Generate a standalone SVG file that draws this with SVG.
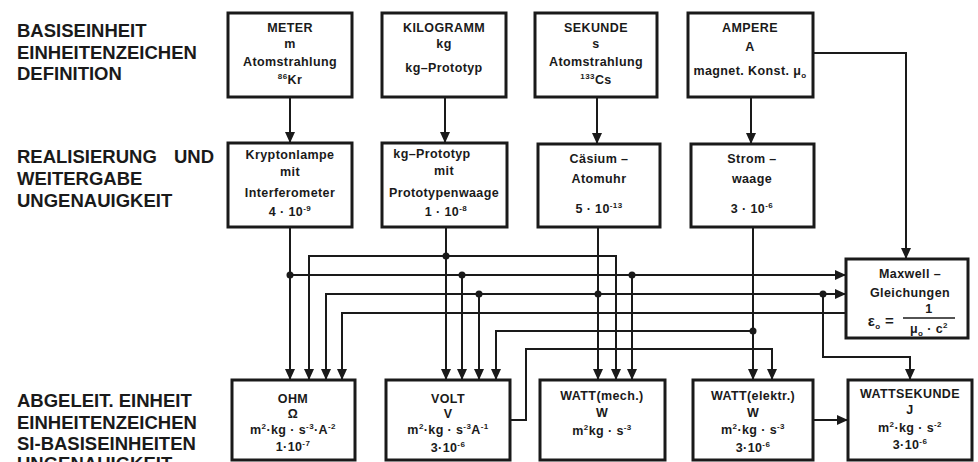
<svg xmlns="http://www.w3.org/2000/svg" width="978" height="462" viewBox="0 0 978 462">
<style>
.lbl{font-family:"Liberation Sans",Arial,sans-serif;font-weight:bold;font-size:18.5px;fill:#1a1a1a}
.box{fill:#fff;stroke:#1a1a1a;stroke-width:3}
.t{font-family:"Liberation Sans",Arial,sans-serif;font-weight:bold;font-size:12.5px;letter-spacing:0.4px;fill:#1a1a1a;text-anchor:middle}
.sup{font-size:8px}
.ln{fill:none;stroke:#1a1a1a;stroke-width:2}
.ar{marker-end:url(#ah)}
.dot{fill:#1a1a1a}
</style>
<defs>
<marker id="ah" markerUnits="userSpaceOnUse" markerWidth="11" markerHeight="10" refX="11" refY="5" orient="auto">
<path d="M0,0 L11,5 L0,10 z" fill="#1a1a1a"/>
</marker>
</defs>
<rect width="978" height="462" fill="#fff"/>
<g id="labels">
<text class="lbl" x="17" y="37">BASISEINHEIT</text>
<text class="lbl" x="17" y="58.5">EINHEITENZEICHEN</text>
<text class="lbl" x="17" y="80">DEFINITION</text>
<text class="lbl" x="17" y="163">REALISIERUNG<tspan x="174">UND</tspan></text>
<text class="lbl" x="17" y="185">WEITERGABE</text>
<text class="lbl" x="17" y="207">UNGENAUIGKEIT</text>
<text class="lbl" x="17" y="407">ABGELEIT. EINHEIT</text>
<text class="lbl" x="17" y="428.5">EINHEITENZEICHEN</text>
<text class="lbl" x="17" y="450">SI-BASISEINHEITEN</text>
<text class="lbl" x="17" y="470">UNGENAUIGKEIT</text>
</g>
<g id="connectors">
<path class="ln ar" d="M290,97 V143"/>
<path class="ln ar" d="M445,97 V143"/>
<path class="ln ar" d="M597,97 V144"/>
<path class="ln ar" d="M751,97 V144"/>
<path class="ln ar" d="M813,53 H906 V259"/>
<path class="ln ar" d="M290,227 V380"/>
<path class="ln ar" d="M446,227 V380"/>
<path class="ln ar" d="M598,227 V380"/>
<path class="ln ar" d="M753,227 V380"/>
<path class="ln ar" d="M446,256 H309 V380"/>
<path class="ln ar" d="M446,256 H616 V380"/>
<path class="ln ar" d="M290,275 H846"/>
<path class="ln ar" d="M462,275 V380"/>
<path class="ln ar" d="M632,275 V380"/>
<path class="ln ar" d="M598,294 H326 V380"/>
<path class="ln ar" d="M598,294 H846"/>
<path class="ln ar" d="M479,294 V380"/>
<path class="ln ar" d="M823,294 V357 H910 V380"/>
<path class="ln ar" d="M846,313 H342 V380"/>
<path class="ln ar" d="M753,331 H496 V380"/>
<path class="ln ar" d="M510,420 H526 V349 H772 V380"/>
<path class="ln ar" d="M813,420 H848"/>
<circle class="dot" cx="446" cy="256" r="3.5"/>
<circle class="dot" cx="290" cy="275" r="3.5"/>
<circle class="dot" cx="462" cy="275" r="3.5"/>
<circle class="dot" cx="632" cy="275" r="3.5"/>
<circle class="dot" cx="598" cy="294" r="3.5"/>
<circle class="dot" cx="479" cy="294" r="3.5"/>
<circle class="dot" cx="823" cy="294" r="3.5"/>
<circle class="dot" cx="753" cy="331" r="3.5"/>
</g>
<g id="meter">
<rect class="box" x="228" y="13" width="124" height="84"/>
<text class="t" x="290" y="32">METER</text>
<text class="t" x="290" y="48">m</text>
<text class="t" x="290" y="66">Atomstrahlung</text>
<text class="t" x="290" y="84"><tspan class="sup" dy="-5">86</tspan><tspan dy="5">Kr</tspan></text>
</g>
<g id="kilogramm">
<rect class="box" x="382" y="13" width="124" height="84"/>
<text class="t" x="444" y="32">KILOGRAMM</text>
<text class="t" x="444" y="48">kg</text>
<text class="t" x="444" y="72">kg–Prototyp</text>
</g>
<g id="sekunde">
<rect class="box" x="535" y="13" width="122" height="84"/>
<text class="t" x="596" y="32">SEKUNDE</text>
<text class="t" x="596" y="48">s</text>
<text class="t" x="596" y="66">Atomstrahlung</text>
<text class="t" x="596" y="84"><tspan class="sup" dy="-5">133</tspan><tspan dy="5">Cs</tspan></text>
</g>
<g id="ampere">
<rect class="box" x="688" y="13" width="125" height="84"/>
<text class="t" x="750" y="32">AMPERE</text>
<text class="t" x="750" y="51">A</text>
<text class="t" x="750" y="75">magnet. Konst. μ<tspan class="sup" dy="3">o</tspan></text>
</g>
<g id="kryptonlampe">
<rect class="box" x="228" y="143" width="124" height="84"/>
<text class="t" x="290" y="159">Kryptonlampe</text>
<text class="t" x="290" y="176">mit</text>
<text class="t" x="290" y="197">Interferometer</text>
<text class="t" x="290" y="216">4 · 10<tspan class="sup" dy="-5">-9</tspan></text>
</g>
<g id="prototypenwaage">
<rect class="box" x="382" y="143" width="125" height="84"/>
<text class="t" x="432" y="158">kg–Prototyp</text>
<text class="t" x="444" y="175">mit</text>
<text class="t" x="444" y="197">Prototypenwaage</text>
<text class="t" x="446" y="216">1 · 10<tspan class="sup" dy="-5">-8</tspan></text>
</g>
<g id="caesium">
<rect class="box" x="538" y="144" width="122" height="83"/>
<text class="t" x="599" y="163">Cäsium –</text>
<text class="t" x="599" y="183">Atomuhr</text>
<text class="t" x="599" y="213">5 · 10<tspan class="sup" dy="-5">-13</tspan></text>
</g>
<g id="stromwaage">
<rect class="box" x="691" y="144" width="123" height="83"/>
<text class="t" x="752" y="163">Strom –</text>
<text class="t" x="752" y="183">waage</text>
<text class="t" x="752" y="213">3 · 10<tspan class="sup" dy="-5">-6</tspan></text>
</g>
<g id="maxwell">
<rect class="box" x="846" y="259" width="122" height="79"/>
<text class="t" x="910" y="278">Maxwell –</text>
<text class="t" x="910" y="297">Gleichungen</text>
<text class="t" x="881" y="326" style="font-size:15px">ε<tspan class="sup" dy="3">o</tspan><tspan dy="-3"> =</tspan></text>
<text class="t" x="929" y="313">1</text>
<line x1="903" y1="318" x2="955" y2="318" stroke="#1a1a1a" stroke-width="1.5"/>
<text class="t" x="929" y="333">μ<tspan class="sup" dy="3">o</tspan><tspan dy="-3"> · c</tspan><tspan class="sup" dy="-5">2</tspan></text>
</g>
<g id="ohm">
<rect class="box" x="232" y="380" width="123" height="80"/>
<text class="t" x="293" y="403">OHM</text>
<text class="t" x="293" y="418">Ω</text>
<text class="t" x="293" y="434">m<tspan class="sup" dy="-5">2</tspan><tspan dy="5">·kg · s</tspan><tspan class="sup" dy="-5">-3</tspan><tspan dy="5">·A</tspan><tspan class="sup" dy="-5">-2</tspan></text>
<text class="t" x="293" y="451">1·10<tspan class="sup" dy="-5">-7</tspan></text>
</g>
<g id="volt">
<rect class="box" x="386" y="380" width="124" height="80"/>
<text class="t" x="448" y="403">VOLT</text>
<text class="t" x="448" y="418">V</text>
<text class="t" x="448" y="434">m<tspan class="sup" dy="-5">2</tspan><tspan dy="5">·kg · s</tspan><tspan class="sup" dy="-5">-3</tspan><tspan dy="5">A</tspan><tspan class="sup" dy="-5">-1</tspan></text>
<text class="t" x="448" y="452">3·10<tspan class="sup" dy="-5">-6</tspan></text>
</g>
<g id="watt-mech">
<rect class="box" x="540" y="380" width="125" height="80"/>
<text class="t" x="602" y="400">WATT(mech.)</text>
<text class="t" x="602" y="417">W</text>
<text class="t" x="602" y="435">m<tspan class="sup" dy="-5">2</tspan><tspan dy="5">kg · s</tspan><tspan class="sup" dy="-5">-3</tspan></text>
</g>
<g id="watt-elektr">
<rect class="box" x="693" y="380" width="120" height="80"/>
<text class="t" x="753" y="400">WATT(elektr.)</text>
<text class="t" x="753" y="417">W</text>
<text class="t" x="753" y="434">m<tspan class="sup" dy="-5">2</tspan><tspan dy="5">·kg · s</tspan><tspan class="sup" dy="-5">-3</tspan></text>
<text class="t" x="753" y="452">3·10<tspan class="sup" dy="-5">-6</tspan></text>
</g>
<g id="wattsekunde">
<rect class="box" x="848" y="380" width="124" height="80"/>
<text class="t" x="910" y="398">WATTSEKUNDE</text>
<text class="t" x="910" y="414">J</text>
<text class="t" x="910" y="432">m<tspan class="sup" dy="-5">2</tspan><tspan dy="5">·kg · s</tspan><tspan class="sup" dy="-5">-2</tspan></text>
<text class="t" x="910" y="449">3·10<tspan class="sup" dy="-5">-6</tspan></text>
</g>
</svg>
